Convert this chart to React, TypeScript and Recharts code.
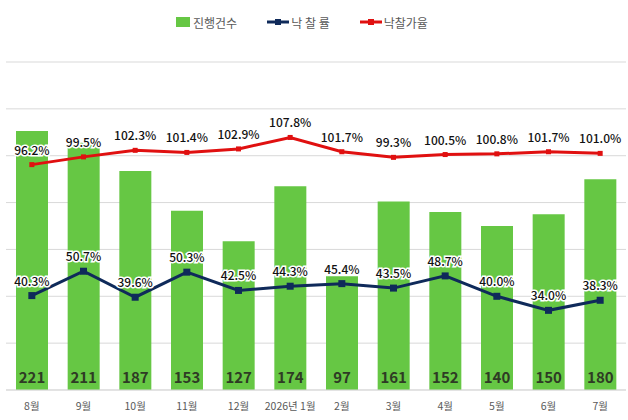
import {
  ComposedChart,
  Bar,
  Line,
  XAxis,
  YAxis,
  CartesianGrid,
  LabelList,
  Legend,
} from "recharts";

const months = ["8월", "9월", "10월", "11월", "12월", "2026년 1월", "2월", "3월", "4월", "5월", "6월", "7월"];
const counts = [221, 211, 187, 153, 127, 174, 97, 161, 152, 140, 150, 180];
const winRate = [40.3, 50.7, 39.6, 50.3, 42.5, 44.3, 45.4, 43.5, 48.7, 40.0, 34.0, 38.3];
const priceRate = [96.2, 99.5, 102.3, 101.4, 102.9, 107.8, 101.7, 99.3, 100.5, 100.8, 101.7, 101.0];
const leftTicks = [0, 40, 80, 120, 160, 200, 240, 280];

const data = months.map((m, i) => ({
  month: m,
  count: counts[i],
  rate: winRate[i],
  price: priceRate[i],
}));

const FONT = "'Noto Sans CJK KR', 'Noto Sans', sans-serif";
const GREEN = "#66c744";
const NAVY = "#0f2a5a";
const RED = "#e01010";

const SquareDot = (color: string, size: number) => (props: any) => {
  const { cx, cy, index } = props;
  if (cx == null || cy == null) return <g key={index} />;
  return <rect key={index} x={cx - size / 2} y={cy - size / 2} width={size} height={size} fill={color} />;
};

const pctLabel = (v: any) => `${Number(v).toFixed(1)}%`;

const labelStyle = {
  fontFamily: FONT,
  fontSize: 12,
  fontWeight: 500,
  fill: "#111",
  stroke: "#fff",
  strokeWidth: 3,
  paintOrder: "stroke",
} as any;

function LegendBox() {
  const item = { display: "flex", alignItems: "center", marginRight: 30 };
  const txt = { fontSize: 12, color: "#595959", fontFamily: FONT };
  const lineIcon = (c: string) => (
    <svg width={22} height={10} style={{ marginRight: 2 }}>
      <line x1={0} y1={5} x2={22} y2={5} stroke={c} strokeWidth={3} />
      <rect x={8} y={2} width={6} height={6} fill={c} />
    </svg>
  );
  return (
    <div style={{ display: "flex", paddingLeft: 176, height: 24, alignItems: "center" }}>
      <div style={item}>
        <div style={{ width: 14, height: 10, background: GREEN, marginRight: 3 }} />
        <span style={txt}>진행건수</span>
      </div>
      <div style={item}>
        {lineIcon(NAVY)}
        <span style={txt}>낙 찰 률</span>
      </div>
      <div style={item}>
        {lineIcon(RED)}
        <span style={txt}>낙찰가율</span>
      </div>
    </div>
  );
}

export default function App() {
  return (
    <div style={{ position: "absolute", left: 0, top: 0, width: 628, height: 420, background: "#fff" }}>
      <ComposedChart
        width={628}
        height={420}
        data={data}
        margin={{ top: 38, right: 2, bottom: 0, left: 6 }}
      >
        <Legend
          verticalAlign="top"
          align="left"
          wrapperStyle={{ top: 10, left: 0, width: 628 }}
          content={() => <LegendBox />}
        />
        <CartesianGrid yAxisId="left" vertical={false} stroke="#d9d9d9" />
        <XAxis
          dataKey="month"
          tickLine={false}
          axisLine={{ stroke: "#d9d9d9" }}
          tick={{ fill: "#595959", fontSize: 10.5, fontFamily: FONT }}
          tickMargin={7}
          interval={0}
          height={30}
        />
        <YAxis yAxisId="left" hide domain={[0, 280]} ticks={leftTicks} />
        <YAxis yAxisId="right" hide domain={[0, 140]} orientation="right" />
        <Bar yAxisId="left" dataKey="count" fill={GREEN} barSize={32} isAnimationActive={false}>
          <LabelList
            dataKey="count"
            position="insideBottom"
            offset={7}
            style={{ fontFamily: FONT, fontSize: 15, fontWeight: 700, fill: "#2e3b24" }}
          />
        </Bar>
        <Line
          yAxisId="right"
          dataKey="rate"
          stroke={NAVY}
          strokeWidth={3}
          dot={SquareDot(NAVY, 7)}
          activeDot={false}
          isAnimationActive={false}
        >
          <LabelList dataKey="rate" position="top" offset={10} formatter={pctLabel} style={labelStyle} />
        </Line>
        <Line
          yAxisId="right"
          dataKey="price"
          stroke={RED}
          strokeWidth={3}
          dot={SquareDot(RED, 5)}
          activeDot={false}
          isAnimationActive={false}
        >
          <LabelList dataKey="price" position="top" offset={10} formatter={pctLabel} style={labelStyle} />
        </Line>
      </ComposedChart>
    </div>
  );
}
